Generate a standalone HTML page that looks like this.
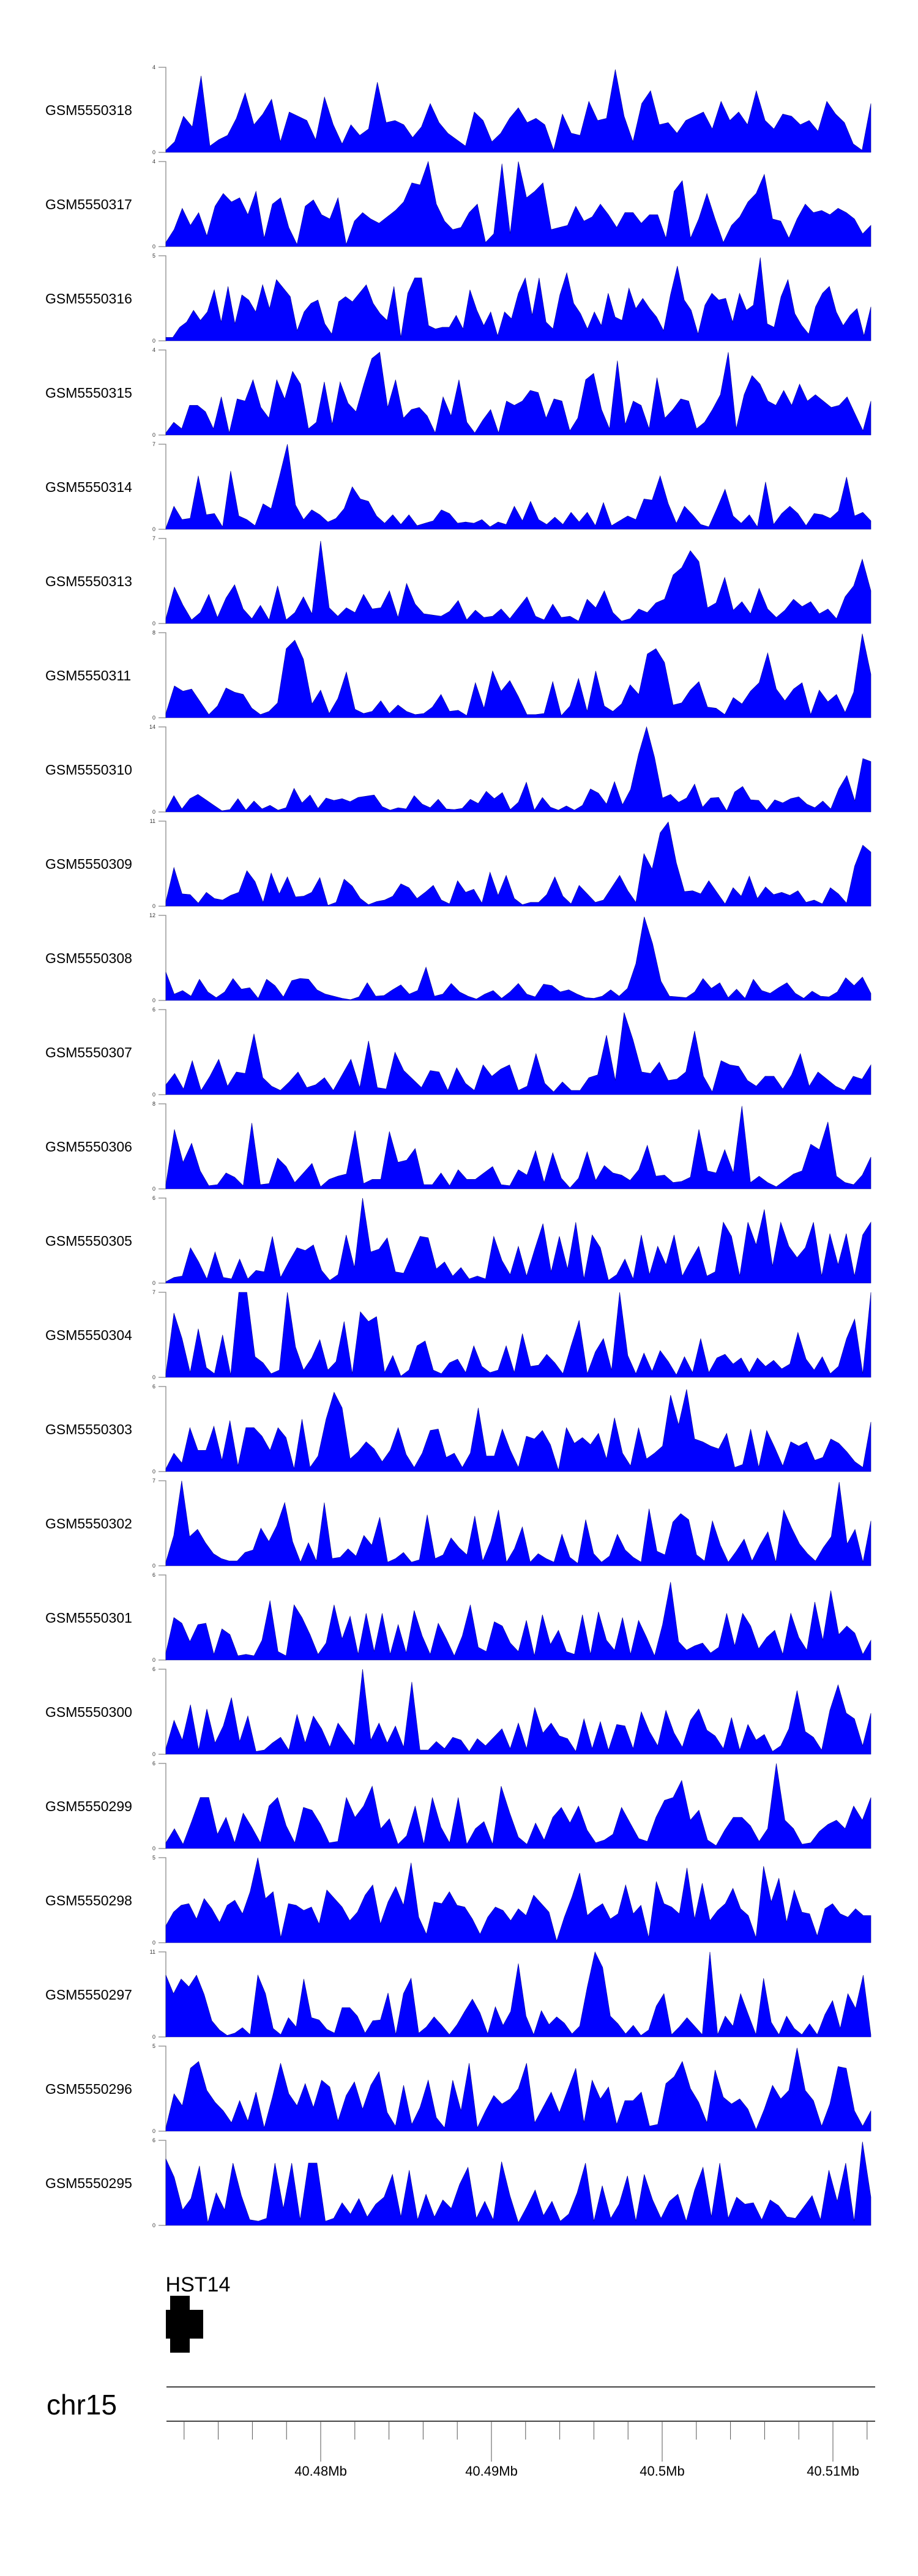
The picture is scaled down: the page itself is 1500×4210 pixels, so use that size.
<!DOCTYPE html>
<html><head><meta charset="utf-8">
<style>
html,body{margin:0;padding:0;background:#fff;}
svg{display:block;font-family:"Liberation Sans",Arial,sans-serif;}
</style></head>
<body>
<svg id="chart" width="1500" height="4210" viewBox="0 0 1500 4210" xmlns="http://www.w3.org/2000/svg">
<defs><clipPath id="geneclip"><rect x="270" y="3690" width="400" height="80"/></clipPath></defs>
<g id="tracks"></g>
<g id="gene-track">
  <text x="246" y="3745" font-size="34" clip-path="url(#geneclip)">CHST14</text>
  <rect x="278" y="3752" width="32" height="93" fill="#000"/>
  <rect x="271" y="3775" width="61" height="47" fill="#000"/>
</g>
<g id="axis">
  <text x="76" y="3946" font-size="46">chr15</text>
  <line x1="272" y1="3901" x2="1430" y2="3901" stroke="#444" stroke-width="2"/>
  <line x1="272" y1="3957" x2="1430" y2="3957" stroke="#444" stroke-width="2"/>
</g>
</svg>
<script>
const trackNames = ["GSM5550318","GSM5550317","GSM5550316","GSM5550315","GSM5550314","GSM5550313","GSM5550311","GSM5550310","GSM5550309","GSM5550308","GSM5550307","GSM5550306","GSM5550305","GSM5550304","GSM5550303","GSM5550302","GSM5550301","GSM5550300","GSM5550299","GSM5550298","GSM5550297","GSM5550296","GSM5550295"];
const trackMax = [4,4,5,4,7,7,8,14,11,12,6,8,6,7,6,7,6,6,6,5,11,5,6];
const s318 = [0.1,0.5,1.7,1.2,3.6,0.3,0.6,0.8,1.6,2.8,1.3,1.8,2.5,0.5,1.9,1.7,1.5,0.6,2.6,1.3,0.4,1.3,0.8,1.1,3.3,1.4,1.5,1.3,0.7,1.2,2.3,1.4,0.9,0.6,0.3,1.9,1.5,0.5,0.9,1.6,2.1,1.4,1.6,1.3,0.1,1.8,0.9,0.8,2.4,1.5,1.6,3.9,1.7,0.5,2.3,2.9,1.3,1.4,0.9,1.5,1.7,1.9,1.1,2.4,1.5,1.9,1.3,2.9,1.5,1.1,1.8,1.7,1.3,1.5,1.0,2.4,1.8,1.4,0.4,0.1,2.3];
const s317 = [0.2,0.8,1.8,1.0,1.6,0.5,1.9,2.5,2.1,2.3,1.5,2.6,0.4,2.0,2.3,0.9,0.1,1.9,2.2,1.5,1.3,2.3,0.1,1.2,1.6,1.3,1.1,1.4,1.7,2.1,3.0,2.9,4.0,2.0,1.2,0.8,0.9,1.6,2.0,0.2,0.6,3.9,0.6,4.0,2.3,2.6,3.0,0.8,0.9,1.0,1.9,1.2,1.4,2.0,1.5,0.9,1.6,1.6,1.1,1.5,1.5,0.4,2.6,3.1,0.4,1.3,2.5,1.3,0.2,1.0,1.4,2.1,2.5,3.4,1.3,1.2,0.4,1.3,2.0,1.6,1.7,1.5,1.8,1.6,1.3,0.6,1.0];
const s316 = [0.2,0.2,0.8,1.1,1.8,1.2,1.7,3.0,1.1,3.2,1.0,2.7,2.4,1.7,3.3,1.9,3.6,3.1,2.6,0.6,1.7,2.2,2.4,1.0,0.4,2.3,2.6,2.3,2.8,3.3,2.2,1.6,1.2,3.2,0.2,2.8,3.7,3.7,0.9,0.7,0.8,0.8,1.5,0.7,3.0,1.8,0.9,1.7,0.3,1.7,1.3,2.8,3.7,1.5,3.7,1.1,0.7,2.7,4.0,2.2,1.6,0.7,1.7,0.9,2.8,1.4,1.2,3.1,1.9,2.5,1.9,1.4,0.6,2.7,4.4,2.4,1.8,0.4,2.1,2.8,2.4,2.5,1.1,2.8,1.8,2.1,4.9,1.0,0.8,2.6,3.6,1.6,0.9,0.4,2.0,2.8,3.2,1.7,0.9,1.5,1.9,0.3,2.0];
const s315 = [0.1,0.6,0.3,1.4,1.4,1.1,0.3,1.8,0.1,1.7,1.6,2.6,1.3,0.8,2.6,1.7,3.0,2.4,0.3,0.6,2.5,0.5,2.5,1.5,1.1,2.4,3.6,3.9,1.3,2.6,0.8,1.2,1.3,0.9,0.1,1.8,0.9,2.6,0.6,0.1,0.7,1.2,0.1,1.6,1.4,1.6,2.1,2.0,0.8,1.7,1.6,0.2,0.8,2.6,2.9,1.2,0.3,3.5,0.5,1.6,1.4,0.3,2.7,0.8,1.2,1.7,1.6,0.3,0.6,1.2,1.9,3.9,0.3,1.9,2.8,2.4,1.6,1.4,2.1,1.4,2.4,1.6,1.9,1.6,1.3,1.4,1.8,1.0,0.2,1.6];
const s314 = [0.1,1.9,0.8,0.9,4.4,1.2,1.3,0.2,4.8,1.1,0.8,0.3,2.1,1.7,4.3,7.0,2.0,0.8,1.6,1.2,0.6,0.9,1.7,3.5,2.5,2.3,1.1,0.5,1.2,0.4,1.2,0.3,0.5,0.7,1.6,1.3,0.5,0.6,0.5,0.8,0.2,0.6,0.4,1.9,0.7,2.3,0.8,0.4,1.0,0.4,1.4,0.6,1.4,0.3,2.2,0.3,0.7,1.1,0.8,2.5,2.4,4.4,2.1,0.5,1.9,1.2,0.4,0.2,1.7,3.3,1.1,0.5,1.2,0.2,3.9,0.4,1.3,1.9,1.3,0.3,1.3,1.2,0.9,1.5,4.3,1.1,1.4,0.7];
const s313 = [0.4,3.0,1.5,0.3,0.9,2.4,0.5,2.1,3.2,1.2,0.4,1.5,0.3,3.1,0.3,0.9,2.2,0.8,6.8,1.3,0.6,1.3,0.9,2.4,1.2,1.3,2.7,0.5,3.3,1.6,0.8,0.7,0.6,1.0,1.9,0.3,1.1,0.5,0.6,1.2,0.4,1.3,2.2,0.6,0.3,1.6,0.5,0.6,0.2,2.0,1.3,2.7,0.9,0.2,0.4,1.2,0.9,1.7,2.0,4.0,4.6,6.0,5.1,1.3,1.7,3.8,1.1,1.8,0.8,2.9,1.2,0.5,1.1,2.0,1.4,1.8,0.8,1.2,0.4,2.2,3.1,5.3,2.7];
const s311 = [0.4,3.0,2.5,2.7,1.5,0.3,1.1,2.8,2.4,2.2,0.9,0.3,0.6,1.4,6.5,7.3,5.5,1.3,2.6,0.4,1.8,4.3,0.8,0.4,0.6,1.6,0.4,1.2,0.6,0.3,0.4,1.0,2.2,0.6,0.7,0.2,3.3,0.9,4.4,2.5,3.5,2.0,0.3,0.3,0.4,3.4,0.2,1.1,3.7,0.6,4.4,1.1,0.6,1.3,3.1,2.2,6.0,6.5,5.2,1.2,1.4,2.6,3.4,1.0,0.9,0.3,1.9,1.3,2.5,3.3,6.1,2.7,1.6,2.7,3.3,0.3,2.6,1.5,2.2,0.5,2.4,7.9,4.1];
const s310 = [0.2,2.7,0.5,2.2,2.9,2.0,1.1,0.2,0.4,2.2,0.3,1.8,0.5,1.1,0.3,0.7,3.9,1.5,2.8,0.6,2.3,1.9,2.2,1.7,2.4,2.6,2.8,0.9,0.3,0.7,0.5,2.7,1.3,0.7,2.1,0.5,0.4,0.6,2.1,1.4,3.4,2.2,3.2,0.4,1.6,4.9,0.3,2.4,0.8,0.3,1.0,0.3,1.1,3.8,3.1,1.3,5.0,1.2,3.7,9.5,14.0,9.0,2.3,2.9,1.6,2.3,4.6,0.8,2.3,2.4,0.2,3.3,4.2,2.0,1.9,0.3,2.0,1.5,2.2,2.5,1.3,0.7,1.8,0.5,3.8,6.0,1.8,8.8,8.3];
const s309 = [0.6,5.0,1.6,1.5,0.4,1.8,1.0,0.8,1.4,1.8,4.6,3.2,0.5,4.3,1.6,3.8,1.2,1.3,1.8,3.7,0.1,0.5,3.5,2.6,1.0,0.2,0.6,0.8,1.3,2.9,2.4,1.0,1.8,2.7,0.8,0.3,3.3,1.8,2.2,0.4,4.4,1.4,4.0,1.0,0.2,0.5,0.5,1.5,3.8,1.3,0.3,2.7,1.6,0.5,0.8,2.4,4.0,2.0,0.5,6.8,4.8,9.5,10.9,5.6,1.9,2.0,1.6,3.3,1.8,0.3,2.4,1.3,3.9,1.0,2.5,1.5,1.8,1.4,2.0,0.5,0.8,0.3,2.4,1.6,0.4,5.2,7.9,7.0];
const s308 = [4.0,0.9,1.4,0.6,3.0,1.2,0.4,1.2,3.1,1.6,1.8,0.3,3.0,2.1,0.5,2.8,3.1,3.0,1.5,0.9,0.6,0.3,0.1,0.5,2.5,0.6,0.7,1.5,2.2,0.9,1.4,4.7,0.6,0.9,2.4,1.2,0.6,0.2,0.9,1.4,0.3,1.2,2.4,0.9,0.5,2.3,2.1,1.2,1.5,0.9,0.4,0.3,0.6,1.5,0.6,1.7,5.2,11.8,8.0,2.7,0.6,0.5,0.4,1.2,3.1,1.7,2.5,0.4,1.6,0.3,3.0,1.4,1.0,1.8,2.5,1.0,0.3,1.3,0.6,0.5,1.2,3.2,2.1,3.3,1.0];
const s307 = [0.7,1.5,0.4,2.4,0.3,1.3,2.5,0.6,1.6,1.5,4.3,1.2,0.6,0.3,0.9,1.6,0.5,0.7,1.2,0.3,1.4,2.5,0.5,3.8,0.5,0.4,3.0,1.7,1.1,0.5,1.7,1.6,0.3,1.9,0.8,0.3,2.1,1.3,1.8,2.1,0.3,0.6,2.9,0.8,0.2,0.9,0.3,0.3,1.2,1.4,4.2,1.0,5.8,3.9,1.6,1.5,2.3,1.0,1.1,1.6,4.5,1.3,0.2,2.4,2.1,2.0,1.0,0.6,1.3,1.3,0.4,1.4,2.9,0.6,1.6,1.1,0.6,0.3,1.3,1.1,2.1];
const s306 = [0.4,5.6,2.5,4.3,1.7,0.3,0.4,1.5,1.1,0.3,6.2,0.4,0.5,2.9,2.1,0.6,1.5,2.4,0.2,0.9,1.2,1.4,5.5,0.5,0.9,0.9,5.4,2.5,2.7,3.8,0.4,0.4,1.5,0.3,1.8,0.9,0.9,1.5,2.1,0.4,0.3,1.8,1.3,3.6,0.6,3.4,1.0,0.1,1.0,3.5,0.8,2.2,1.5,1.3,0.8,1.8,4.1,1.2,1.3,0.6,0.7,1.1,5.6,1.7,1.5,3.7,1.5,7.8,0.6,1.2,0.6,0.2,0.8,1.4,1.7,4.2,3.7,6.3,1.2,0.6,0.4,1.3,3.0];
const s305 = [0.1,0.4,0.5,2.5,1.5,0.3,2.2,0.4,0.3,1.7,0.3,0.9,0.8,3.3,0.4,1.5,2.5,2.3,2.7,0.9,0.2,0.6,3.4,1.1,6.0,2.2,2.4,3.2,0.8,0.7,2.0,3.3,3.2,1.0,1.5,0.5,1.1,0.3,0.5,0.3,3.3,1.6,0.6,2.6,0.5,2.4,4.2,0.8,3.3,1.0,4.3,0.3,3.4,2.5,0.2,0.6,1.7,0.3,3.4,0.6,2.6,1.3,3.4,0.5,1.6,2.6,0.5,0.8,4.3,3.3,0.5,4.3,2.7,5.2,1.2,4.3,2.6,1.8,2.5,4.3,0.5,3.5,1.3,3.5,0.5,3.4,4.3];
const s304 = [0.3,5.3,3.2,0.4,4.0,0.8,0.3,3.5,0.2,7.0,7.0,1.7,1.2,0.3,0.6,7.0,2.5,0.6,1.6,3.1,0.6,1.3,4.6,0.3,5.4,4.6,5.0,0.4,1.8,0.1,0.6,2.6,3.0,0.6,0.3,1.2,1.5,0.4,2.6,0.9,0.4,0.6,2.6,0.4,3.6,0.9,1.0,1.9,1.2,0.3,2.6,4.7,0.3,2.1,3.2,0.6,7.0,1.8,0.3,2.0,0.5,2.2,1.3,0.2,1.7,0.4,3.2,0.4,1.6,1.9,1.1,1.6,0.4,1.6,0.9,1.4,0.7,1.1,3.7,1.5,0.6,1.7,0.3,0.9,3.2,4.8,0.3,7.0];
const s303 = [0.2,1.3,0.6,3.1,1.5,1.5,3.2,0.8,3.6,0.4,3.1,3.1,2.5,1.5,3.1,2.4,0.2,3.7,0.3,1.1,3.7,5.6,4.5,0.9,1.4,2.1,1.6,0.7,1.5,3.1,1.2,0.3,1.3,2.9,3.0,1.0,1.3,0.3,1.3,4.5,1.1,1.1,3.0,1.5,0.3,2.5,2.3,2.9,1.9,0.1,3.1,2.0,2.4,1.9,2.7,0.9,3.8,1.3,0.4,3.1,0.9,1.3,1.8,5.4,3.3,5.8,2.3,2.1,1.8,1.6,2.7,0.3,0.5,3.0,0.3,2.9,1.7,0.4,2.1,1.8,2.1,0.8,1.0,2.3,2.0,1.4,0.7,0.3,3.5];
const s302 = [0.3,2.5,7.0,2.4,3.0,1.9,1.0,0.6,0.4,0.4,1.1,1.3,3.1,2.0,3.3,5.2,2.0,0.3,1.9,0.4,5.2,0.6,0.7,1.4,0.8,2.5,1.7,4.0,0.3,0.6,1.1,0.3,0.5,4.2,0.6,0.9,2.3,1.5,0.9,4.1,0.4,2.0,4.6,0.3,1.4,3.2,0.3,1.0,0.6,0.3,2.6,0.7,0.2,3.8,1.0,0.3,0.8,2.6,1.3,0.7,0.3,4.7,1.2,0.9,3.6,4.3,3.8,0.9,0.4,3.7,1.7,0.3,1.2,2.2,0.4,1.7,2.8,0.3,4.6,3.1,1.8,1.0,0.4,1.5,2.4,6.9,1.8,3.0,0.3,3.7];
const s301 = [0.5,3.0,2.6,1.3,2.5,2.6,0.4,2.2,1.8,0.3,0.4,0.3,1.4,4.2,0.6,0.3,3.9,3.0,1.8,0.4,1.2,3.9,1.5,3.1,0.4,3.3,0.6,3.3,0.4,2.5,0.5,3.5,1.7,0.4,2.6,1.5,0.3,1.7,3.9,0.9,0.6,2.7,2.4,1.2,0.6,2.8,0.3,3.2,1.1,2.1,0.6,0.4,3.2,0.4,3.4,1.4,0.7,3.0,0.4,2.8,1.6,0.3,2.5,5.5,1.3,0.7,1.0,1.2,0.5,0.9,3.3,1.0,3.3,2.4,0.8,1.6,2.1,0.4,3.3,1.6,0.7,4.1,1.4,4.9,1.8,2.4,1.9,0.4,1.4];
const s300 = [0.4,2.4,1.0,3.5,0.3,3.2,0.8,2.0,4.0,0.9,2.7,0.2,0.3,0.8,1.2,0.3,2.8,0.8,2.7,1.8,0.5,2.2,1.4,0.6,6.0,1.0,2.2,0.8,2.0,0.5,5.1,0.3,0.3,0.9,0.4,1.2,1.0,0.2,1.1,0.6,1.2,1.8,0.4,2.2,0.4,3.3,1.5,2.2,1.3,1.1,0.2,2.5,0.4,2.3,0.3,2.1,2.0,0.4,3.0,1.6,0.6,3.1,1.5,0.5,2.4,3.2,1.7,1.3,0.4,2.6,0.3,2.1,1.0,1.4,0.2,0.6,1.8,4.5,1.6,1.2,0.3,3.1,4.9,2.9,2.5,0.6,2.9];
const s299 = [0.4,1.4,0.3,1.9,3.6,3.6,1.0,2.2,0.4,2.5,1.5,0.4,3.0,3.6,1.6,0.4,2.9,2.7,1.7,0.4,0.5,3.6,2.2,3.0,4.4,1.4,2.1,0.3,0.9,3.0,0.3,3.6,1.5,0.4,3.6,0.3,1.4,1.9,0.3,4.4,2.5,0.8,0.3,1.8,0.6,2.2,2.9,1.8,3.0,1.3,0.4,0.6,1.0,2.9,1.8,0.7,0.5,2.2,3.4,3.6,4.8,2.0,2.7,0.6,0.2,1.3,2.2,2.2,1.6,0.5,1.4,6.0,2.0,1.4,0.3,0.4,1.2,1.7,2.0,1.4,3.0,2.0,3.6];
const s298 = [1.0,1.8,2.2,2.3,1.4,2.6,2.0,1.2,2.2,2.5,1.7,3.0,5.0,2.6,3.0,0.3,2.3,2.2,1.9,2.1,1.1,3.1,2.6,2.1,1.3,1.8,2.8,3.4,1.1,2.4,3.3,2.2,4.7,1.5,0.5,2.4,2.3,3.0,2.2,2.1,1.4,0.5,1.5,2.1,1.9,1.3,2.0,1.6,2.8,2.3,1.8,0.1,1.5,2.7,4.1,1.6,2.0,2.3,1.4,1.7,3.4,1.7,2.2,0.3,3.6,2.3,2.1,1.7,4.4,1.4,3.5,1.3,1.9,2.3,3.2,2.0,1.6,0.3,4.5,2.4,3.8,1.2,3.1,1.8,1.7,0.4,2.0,2.3,1.7,1.5,2.0,1.6,1.6];
const s297 = [8.0,5.6,7.5,6.5,8.0,5.5,2.1,0.9,0.2,0.5,1.2,0.3,8.0,5.6,1.1,0.3,2.5,1.3,7.5,2.5,2.2,1.0,0.5,3.8,3.8,2.7,0.5,2.1,2.2,5.7,0.3,5.6,7.6,0.5,1.3,2.6,1.5,0.3,1.6,3.3,4.9,3.1,0.4,3.9,1.5,3.3,9.5,2.7,0.3,3.4,1.6,2.6,1.8,0.4,1.4,6.5,11.0,9.0,2.7,1.7,0.4,1.5,0.2,0.9,4.0,5.6,0.3,1.3,2.5,1.4,0.3,11.0,0.3,2.7,1.4,5.6,2.9,0.3,7.6,1.9,0.3,2.7,1.1,0.3,1.7,0.3,2.9,4.7,1.1,5.6,3.7,8.0,0.3];
const s296 = [0.2,2.2,1.5,3.7,4.1,2.4,1.7,1.2,0.5,1.8,0.6,2.3,0.2,2.0,4.0,2.2,1.5,2.8,1.4,3.0,2.6,0.6,2.1,2.9,1.3,2.7,3.5,1.1,0.3,2.7,0.4,1.4,3.0,0.8,0.2,3.0,1.2,4.0,0.2,1.2,2.1,1.6,1.9,2.5,4.0,0.5,1.4,2.3,1.1,2.4,3.7,0.5,3.0,1.9,2.6,0.4,1.8,1.8,2.3,0.3,0.4,2.8,3.2,4.1,2.5,1.7,0.5,3.6,2.0,1.6,1.9,1.3,0.1,1.3,2.7,1.9,2.4,4.9,2.4,1.8,0.3,1.6,3.8,3.7,1.2,0.3,1.2];
const s295 = [4.7,3.4,1.1,1.9,4.2,0.2,2.3,1.1,4.4,2.1,0.4,0.3,0.5,4.4,1.2,4.4,0.4,4.4,4.4,0.3,0.5,1.6,0.8,1.9,0.6,1.5,2.0,3.6,0.6,3.9,0.4,2.2,0.6,1.8,1.2,2.9,4.1,0.5,1.7,0.4,4.5,2.1,0.2,1.3,2.5,0.7,1.7,0.3,0.8,2.3,4.4,0.3,2.8,0.5,1.5,3.5,0.3,3.6,1.8,0.5,1.7,2.2,0.3,2.5,4.1,0.6,4.4,0.5,2.0,1.5,1.6,0.4,1.8,1.4,0.6,0.5,1.3,2.1,0.4,3.9,1.7,4.4,0.3,5.9,2.0];
const trackSeries = [s318,s317,s316,s315,s314,s313,s311,s310,s309,s308,s307,s306,s305,s304,s303,s302,s301,s300,s299,s298,s297,s296,s295];
const axisMajorTicks = [40.48,40.49,40.5,40.51];
const axisMajorLabels = ["40.48Mb","40.49Mb","40.5Mb","40.51Mb"];
const axisMinorTicks = [40.472,40.474,40.476,40.478,40.48,40.482,40.484,40.486,40.488,40.49,40.492,40.494,40.496,40.498,40.5,40.502,40.504,40.506,40.508,40.51,40.512];

const NS = "http://www.w3.org/2000/svg";
const X0 = 271, X1 = 1423, TOP0 = 110, PERIOD = 154, H = 139;
function mk(tag, attrs, parent){const e=document.createElementNS(NS,tag);for(const k in attrs)e.setAttribute(k,attrs[k]);parent.appendChild(e);return e;}
function xScale(i,n){return X0 + (X1-X0)*i/(n-1);}
function yScale(v,max,top){return top + H - H*Math.min(v,max)/max;}
function genomeX(mb){return 524 + (mb-40.48)*27900;}

const tracksG = document.getElementById('tracks');
trackNames.forEach((name,t)=>{
  const top = TOP0 + PERIOD*t, zero = top + H, max = trackMax[t], data = trackSeries[t];
  const g = mk('g',{},tracksG);
  
  
  const lab = mk('text',{x:74,y:top+78,'font-size':23,fill:'#000'},g);
  lab.textContent = name;
  
  
  const ax = mk('path',{d:`M259 ${top}H271V${zero}H259`,stroke:'#888',fill:'none','stroke-width':1.3},g);
  
  
  const tMax = mk('text',{x:254,y:top+3,'font-size':9,'text-anchor':'end',fill:'#333'},g);
  tMax.textContent = String(max);
  
  
  const tZero = mk('text',{x:254,y:zero+3,'font-size':9,'text-anchor':'end',fill:'#333'},g);
  tZero.textContent = '0';
  
  
  let d = `M${X0} ${zero}`;
  data.forEach((v,i)=>{ d += `L${xScale(i,data.length).toFixed(1)} ${yScale(v,max,top).toFixed(1)}`; });
  d += `L${X1} ${zero}Z`;
  const area = mk('path',{d:d,fill:'#0000ff',stroke:'#00008b','stroke-width':0.6,'stroke-linejoin':'miter'},g);
  
  
});

const axisG = document.getElementById('axis');
axisMinorTicks.forEach(mb=>{
  const x = genomeX(mb);
  const tk = mk('line',{x1:x,y1:3957,x2:x,y2:3987,stroke:'#555','stroke-width':1},axisG);
  
  
});
axisMajorTicks.forEach((mb,i)=>{
  const x = genomeX(mb);
  const tk = mk('line',{x1:x,y1:3957,x2:x,y2:4023,stroke:'#555','stroke-width':1},axisG);
  
  
  const lb = mk('text',{x:x,y:4046,'font-size':22,'text-anchor':'middle',fill:'#000'},axisG);
  lb.textContent = axisMajorLabels[i];
  
  
});
</script>
</body></html>
